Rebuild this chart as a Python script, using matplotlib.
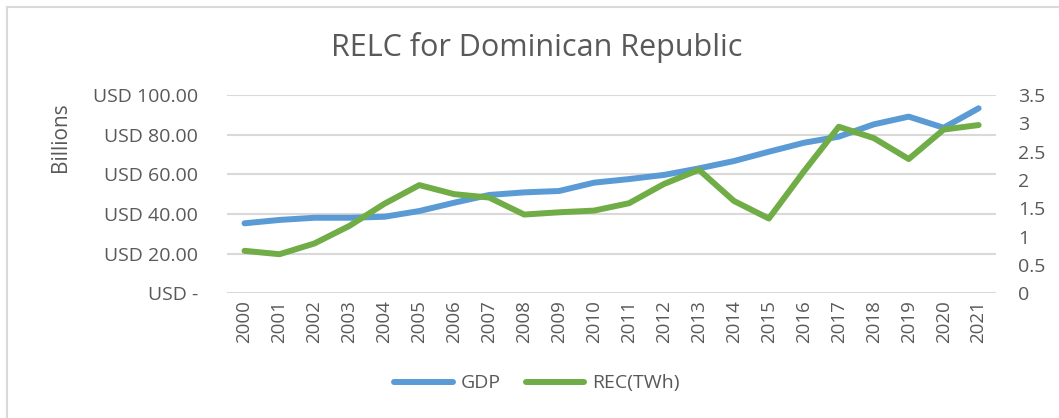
import numpy as np
import matplotlib.pyplot as plt
from matplotlib.lines import Line2D

years = [str(y) for y in range(2000, 2022)]
gdp = [35.3, 37.0, 38.1, 38.1, 38.6, 41.5, 45.7, 49.6, 50.9, 51.6, 55.8,
       57.6, 59.7, 63.0, 66.7, 71.4, 75.9, 79.0, 85.2, 89.1, 83.5, 93.3]
rec = [0.75, 0.69, 0.88, 1.19, 1.58, 1.91, 1.75, 1.69, 1.39, 1.43, 1.46,
       1.59, 1.93, 2.18, 1.63, 1.32, 2.15, 2.94, 2.74, 2.37, 2.89, 2.97]
left_ticks = [0, 20, 40, 60, 80, 100]
left_labels = ["USD -", "USD 20.00", "USD 40.00", "USD 60.00", "USD 80.00", "USD 100.00"]
right_ticks = [0, 0.5, 1, 1.5, 2, 2.5, 3, 3.5]
right_labels = ["0", "0.5", "1", "1.5", "2", "2.5", "3", "3.5"]

plt.rcParams['font.family'] = ['Open Sans', 'DejaVu Sans']
txt = '#595959'
blue = '#5B9BD5'
green = '#70AD47'

fig = plt.figure(figsize=(10.59, 4.18), dpi=100)
ax = fig.add_axes([0.2144, 0.2983, 0.7262, 0.4744])
ax2 = ax.twinx()

x = np.arange(len(years))
ax.plot(x, gdp, color=blue, lw=4.3, solid_capstyle='round', zorder=3)
ax2.plot(x, rec, color=green, lw=4.3, solid_capstyle='round', zorder=3)

ax.set_xlim(-0.5, len(years) - 0.5)
ax.set_ylim(0, 100)
ax2.set_ylim(0, 3.5)
ax.set_yticks(left_ticks)
ax.set_yticklabels(left_labels)
ax2.set_yticks(right_ticks)
ax2.set_yticklabels(right_labels)
ax.set_xticks(x)
ax.set_xticklabels(years, rotation=90)

ax.grid(axis='y', color='#d9d9d9', lw=1.5)
ax.set_axisbelow(True)
for a in (ax, ax2):
    for s in a.spines.values():
        s.set_visible(False)
    a.tick_params(length=0, colors=txt, labelsize=14)
ax.tick_params(axis='y', pad=21)
ax.tick_params(axis='x', pad=5, labelsize=13.5)
ax2.tick_params(axis='y', pad=16)

fig.text(0.507, 0.887, "RELC for Dominican Republic", ha='center', va='center',
         fontsize=22, color=txt)
fig.text(0.057, 0.672, "Billions", rotation=90, ha='center', va='center',
         fontsize=15, color=txt)

handles = [Line2D([0], [0], color=blue, lw=4.3, solid_capstyle='round'),
           Line2D([0], [0], color=green, lw=4.3, solid_capstyle='round')]
fig.legend(handles, ["GDP", "REC(TWh)"], loc='center', bbox_to_anchor=(0.507, 0.083),
           ncol=2, frameon=False, fontsize=14, labelcolor=txt,
           handlelength=3.0, columnspacing=1.3, handletextpad=0.4)

# chart border (left and top edges visible)
fig.add_artist(plt.Line2D([0.0062, 0.0062], [0, 0.983], color='#d9d9d9', lw=1.5))
fig.add_artist(plt.Line2D([0.0062, 1], [0.983, 0.983], color='#d9d9d9', lw=1.5))

fig.savefig("out.png", dpi=100)
